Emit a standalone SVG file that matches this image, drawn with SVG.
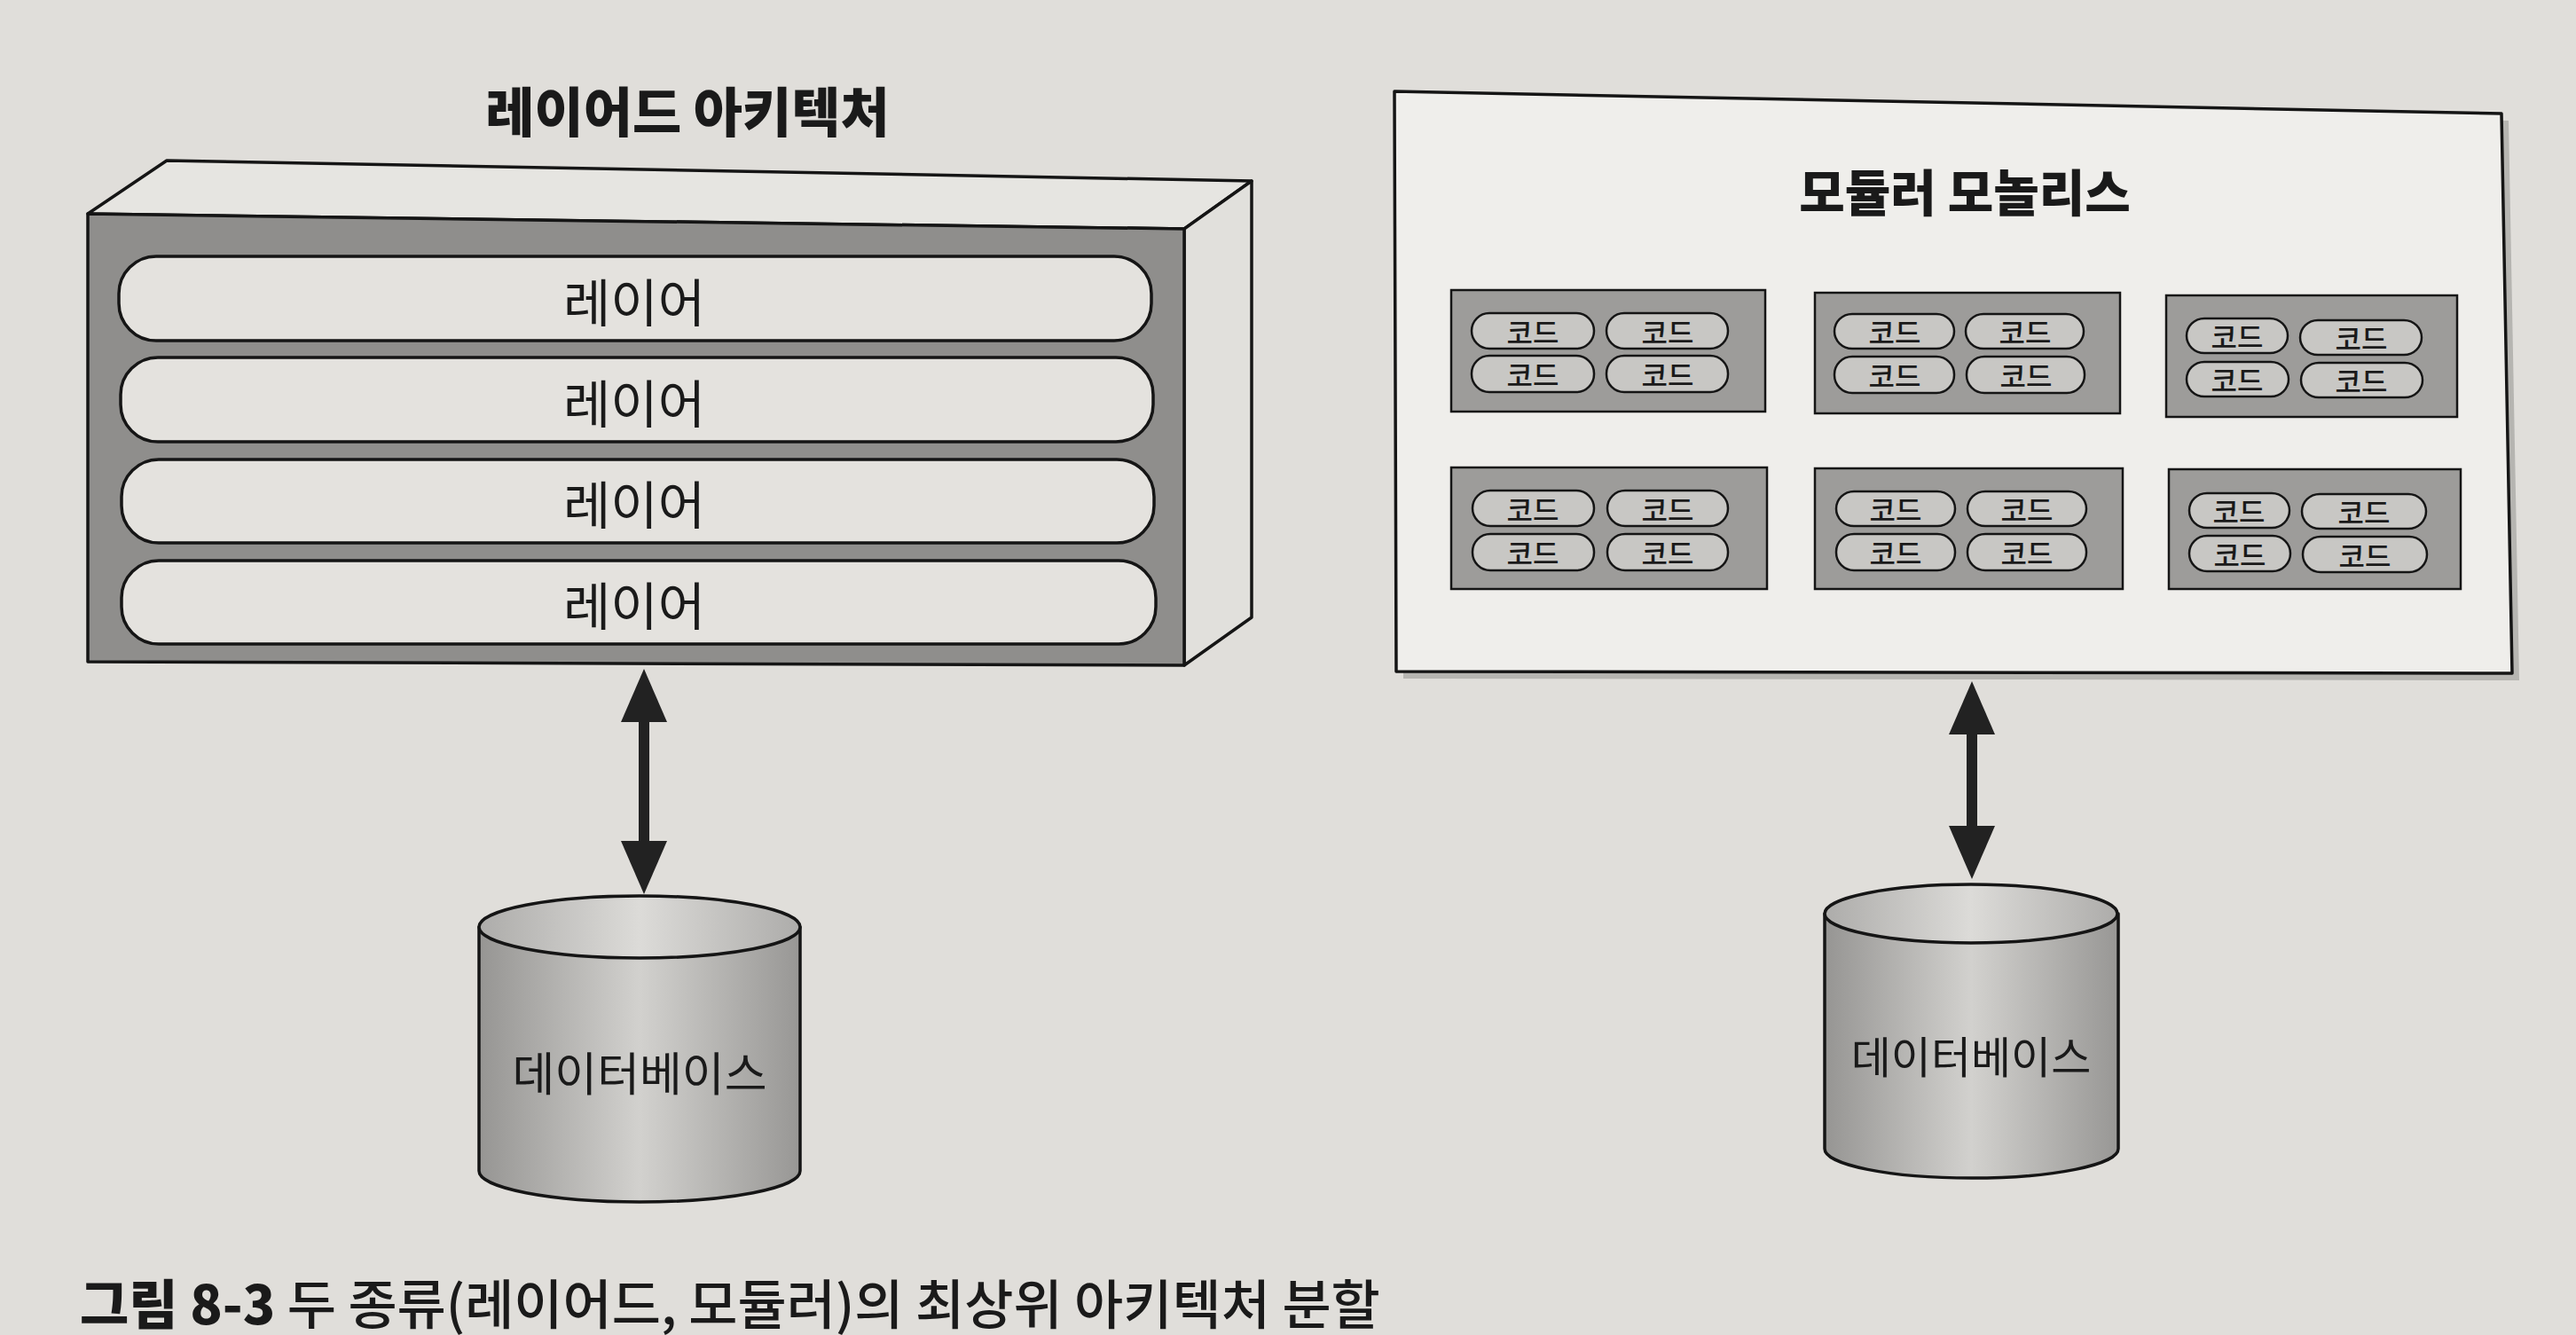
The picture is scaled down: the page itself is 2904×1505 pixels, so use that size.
<svg xmlns="http://www.w3.org/2000/svg" width="2904" height="1505" viewBox="0 0 2904 1505">
<style>
  .kr { font-family: "Noto Sans CJK KR", "Noto Sans", sans-serif; fill: #1a1a1a; }
  .title { font-size: 60px; font-weight: 800; text-anchor: middle; }
  .layer { fill: #e4e2de; stroke: #151515; stroke-width: 3.5; }
  .layertxt { font-size: 58px; text-anchor: middle; dominant-baseline: central; }
  .module { fill: #9d9c9a; stroke: #151515; stroke-width: 2.5; }
  .code { fill: #c8c7c4; stroke: #151515; stroke-width: 2.5; }
  .codetxt { font-size: 32px; font-weight: 500; text-anchor: middle; dominant-baseline: central; }
  .dbtxt { font-size: 52px; text-anchor: middle; dominant-baseline: central; }
  .edge { stroke: #222; stroke-width: 12; fill: none; }
  .outline { stroke: #151515; stroke-width: 3.5; stroke-linejoin: round; }
</style>
<defs>
  <marker id="head" viewBox="0 0 60 52" refX="2" refY="26" markerWidth="60" markerHeight="52" markerUnits="userSpaceOnUse" orient="auto-start-reverse">
    <path d="M0,0 L60,26 L0,52 Z" fill="#222"/>
  </marker>
  <linearGradient id="cylBody" x1="0" y1="0" x2="1" y2="0">
    <stop offset="0" stop-color="#969593"/>
    <stop offset="0.5" stop-color="#d2d1ce"/>
    <stop offset="1" stop-color="#989795"/>
  </linearGradient>
  <linearGradient id="cylTop" x1="0" y1="0" x2="1" y2="0">
    <stop offset="0" stop-color="#adacaa"/>
    <stop offset="0.5" stop-color="#dcdbd8"/>
    <stop offset="1" stop-color="#adacaa"/>
  </linearGradient>
</defs>

<rect x="0" y="0" width="2904" height="1505" fill="#e0deda"/>

<g id="layered-architecture">
  <text class="kr title" x="775" y="149">레이어드 아키텍처</text>
  <polygon class="outline" points="99,241 188,181 1411,204 1335,258" fill="#e6e5e1"/>
  <polygon class="outline" points="1335,258 1411,204 1411,696 1335,750" fill="#e1e0dc"/>
  <polygon class="outline" points="99,241 1335,258 1335,750 99,746" fill="#8f8e8c"/>
  <g id="layer-1">
    <rect class="layer" x="134" y="289" width="1164" height="95" rx="42"/>
    <text class="kr layertxt" x="715" y="338">레이어</text>
  </g>
  <g id="layer-2">
    <rect class="layer" x="136" y="403" width="1164" height="95" rx="42"/>
    <text class="kr layertxt" x="715" y="452">레이어</text>
  </g>
  <g id="layer-3">
    <rect class="layer" x="137" y="518" width="1164" height="94" rx="42"/>
    <text class="kr layertxt" x="715" y="566">레이어</text>
  </g>
  <g id="layer-4">
    <rect class="layer" x="137" y="632" width="1166" height="94" rx="42"/>
    <text class="kr layertxt" x="715" y="680">레이어</text>
  </g>
</g>

<g id="modular-monolith">
  <polygon points="1580,112 2828,136 2840,767 1582,765" fill="#9a9996" opacity="0.6"/>
  <polygon class="outline" points="1572,103 2820,128 2832,759 1574,757" fill="#efeeeb"/>
  <text class="kr title" x="2215" y="238" style="font-size:56px">모듈러 모놀리스</text>
</g>

<g id="module-1">
  <rect class="module" x="1636" y="327" width="354" height="137"/>
  <rect class="code" x="1659" y="353" width="138" height="40" rx="20"/><text class="kr codetxt" x="1728" y="373">코드</text>
  <rect class="code" x="1811" y="353" width="137" height="40" rx="20"/><text class="kr codetxt" x="1880" y="373">코드</text>
  <rect class="code" x="1659" y="401" width="138" height="41" rx="20"/><text class="kr codetxt" x="1728" y="421">코드</text>
  <rect class="code" x="1811" y="401" width="137" height="41" rx="20"/><text class="kr codetxt" x="1880" y="421">코드</text>
</g>
<g id="module-2">
  <rect class="module" x="2046" y="330" width="344" height="136"/>
  <rect class="code" x="2068" y="354" width="135" height="39" rx="20"/><text class="kr codetxt" x="2136" y="373">코드</text>
  <rect class="code" x="2216" y="354" width="133" height="39" rx="20"/><text class="kr codetxt" x="2283" y="373">코드</text>
  <rect class="code" x="2068" y="402" width="135" height="41" rx="20"/><text class="kr codetxt" x="2136" y="422">코드</text>
  <rect class="code" x="2217" y="402" width="133" height="41" rx="20"/><text class="kr codetxt" x="2284" y="422">코드</text>
</g>
<g id="module-3">
  <rect class="module" x="2442" y="333" width="328" height="137"/>
  <rect class="code" x="2465" y="359" width="114" height="39" rx="20"/><text class="kr codetxt" x="2522" y="378">코드</text>
  <rect class="code" x="2593" y="361" width="137" height="39" rx="20"/><text class="kr codetxt" x="2662" y="380">코드</text>
  <rect class="code" x="2465" y="408" width="115" height="39" rx="20"/><text class="kr codetxt" x="2522" y="427">코드</text>
  <rect class="code" x="2594" y="409" width="137" height="39" rx="20"/><text class="kr codetxt" x="2662" y="428">코드</text>
</g>
<g id="module-4">
  <rect class="module" x="1636" y="527" width="356" height="137"/>
  <rect class="code" x="1660" y="553" width="137" height="40" rx="20"/><text class="kr codetxt" x="1728" y="573">코드</text>
  <rect class="code" x="1812" y="553" width="136" height="40" rx="20"/><text class="kr codetxt" x="1880" y="573">코드</text>
  <rect class="code" x="1660" y="602" width="137" height="41" rx="20"/><text class="kr codetxt" x="1728" y="622">코드</text>
  <rect class="code" x="1812" y="602" width="136" height="41" rx="20"/><text class="kr codetxt" x="1880" y="622">코드</text>
</g>
<g id="module-5">
  <rect class="module" x="2046" y="528" width="347" height="136"/>
  <rect class="code" x="2070" y="554" width="134" height="39" rx="20"/><text class="kr codetxt" x="2137" y="573">코드</text>
  <rect class="code" x="2218" y="554" width="134" height="39" rx="20"/><text class="kr codetxt" x="2285" y="573">코드</text>
  <rect class="code" x="2070" y="602" width="134" height="41" rx="20"/><text class="kr codetxt" x="2137" y="622">코드</text>
  <rect class="code" x="2218" y="602" width="134" height="41" rx="20"/><text class="kr codetxt" x="2285" y="622">코드</text>
</g>
<g id="module-6">
  <rect class="module" x="2445" y="529" width="329" height="135"/>
  <rect class="code" x="2468" y="556" width="113" height="39" rx="20"/><text class="kr codetxt" x="2524" y="575">코드</text>
  <rect class="code" x="2595" y="557" width="140" height="39" rx="20"/><text class="kr codetxt" x="2665" y="576">코드</text>
  <rect class="code" x="2468" y="604" width="114" height="40" rx="20"/><text class="kr codetxt" x="2525" y="624">코드</text>
  <rect class="code" x="2596" y="605" width="140" height="40" rx="20"/><text class="kr codetxt" x="2666" y="625">코드</text>
</g>

<g id="database-left">
  <path class="outline" d="M540,1045 L540,1320 A181,35 0 0 0 902,1320 L902,1045 Z" fill="url(#cylBody)"/>
  <ellipse class="outline" cx="721" cy="1045" rx="181" ry="35" fill="url(#cylTop)"/>
  <text class="kr dbtxt" x="721" y="1207">데이터베이스</text>
</g>

<g id="database-right">
  <path class="outline" d="M2057,1030 L2057,1295 A165,33 0 0 0 2388,1295 L2388,1030 Z" fill="url(#cylBody)"/>
  <ellipse class="outline" cx="2222" cy="1030" rx="165" ry="33" fill="url(#cylTop)"/>
  <text class="kr dbtxt" x="2222" y="1188" style="font-size:49px">데이터베이스</text>
</g>

<g id="connectors">
  <line class="edge" x1="726" y1="812" x2="726" y2="950" marker-start="url(#head)" marker-end="url(#head)"/>
  <line class="edge" x1="2223" y1="826" x2="2223" y2="933" marker-start="url(#head)" marker-end="url(#head)"/>
</g>

<g id="caption">
  <text class="kr" x="90" y="1493" style="font-size:60px;font-weight:500"><tspan font-weight="800">그림 8-3</tspan> 두 종류(레이어드, 모듈러)의 최상위 아키텍처 분할</text>
</g>
</svg>
